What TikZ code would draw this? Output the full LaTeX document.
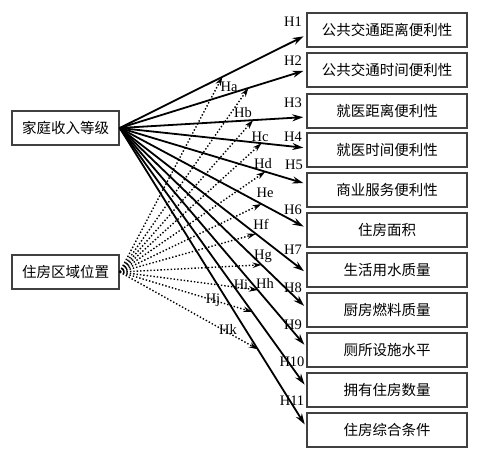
\documentclass[tikz,border=0pt]{standalone}
\usepackage{fontspec}
\setmainfont{Liberation Serif}
\newfontfamily\cjkfont{Noto Sans CJK SC}
\usetikzlibrary{arrows.meta}

\tikzset{
  varbox/.style={draw=black!75,line width=1.4pt,minimum height=34pt,inner sep=0pt,
    font=\cjkfont\fontsize{14.5}{16}\selectfont},
  leftbox/.style={varbox,minimum width=107pt},
  rightbox/.style={varbox,minimum width=160pt},
  mainarr/.style={line width=1.8pt,-{Stealth[length=11pt,width=7pt]},shorten >=3pt},
  modarr/.style={dotted,line width=1.4pt,-{Stealth[length=9pt,width=5.5pt]}},
  hlab/.style={inner sep=0pt,font=\fontsize{14.5}{16}\selectfont}
}

\begin{document}
\begin{tikzpicture}[x=1pt,y=-1pt]
\useasboundingbox (0,0) rectangle (478,458);

% left variables
\node[leftbox] (inc) at (65.5,128) {家庭收入等级};
\node[leftbox] (loc) at (65.5,272) {住房区域位置};

% right variables
\node[rightbox] (b1) at (387,30) {公共交通距离便利性};
\node[rightbox] (b2) at (387,70) {公共交通时间便利性};
\node[rightbox] (b3) at (387,111) {就医距离便利性};
\node[rightbox] (b4) at (387,150) {就医时间便利性};
\node[rightbox] (b5) at (387,190) {商业服务便利性};
\node[rightbox] (b6) at (387,230) {住房面积};
\node[rightbox] (b7) at (387,270) {生活用水质量};
\node[rightbox] (b8) at (387,310) {厨房燃料质量};
\node[rightbox] (b9) at (387,350) {厕所设施水平};
\node[rightbox] (b10) at (387,390) {拥有住房数量};
\node[rightbox] (b11) at (387,430) {住房综合条件};

% main effects
\draw[mainarr] (inc.east) -- coordinate[pos=0.55] (m1) ([yshift=-5pt]b1.west);
\draw[mainarr] (inc.east) -- coordinate[pos=0.69] (m2) (b2.west);
\draw[mainarr] (inc.east) -- coordinate[pos=0.715] (m3) ([yshift=-6pt]b3.west);
\draw[mainarr] (inc.east) -- coordinate[pos=0.76] (m4) ([yshift=2pt]b4.west);
\draw[mainarr] (inc.east) -- coordinate[pos=0.78] (m5) ([yshift=6pt]b5.west);
\draw[mainarr] (inc.east) -- coordinate[pos=0.76] (m6) ([yshift=2pt]b6.west);
\draw[mainarr] (inc.east) -- coordinate[pos=0.73] (m7) ([yshift=-3pt]b7.west);
\draw[mainarr] (inc.east) -- coordinate[pos=0.76] (m8) ([yshift=2pt]b8.west);
\draw[mainarr] (inc.east) -- coordinate[pos=0.74] (m9) ([yshift=3pt]b9.west);
\draw[mainarr] (inc.east) -- coordinate[pos=0.71] (m10) ([yshift=3pt]b10.west);
\draw[mainarr] (inc.east) -- coordinate[pos=0.74] (m11) ([yshift=3pt]b11.west);

\node[hlab] (h1) at (293,22) {H1};
\node[hlab] (h2) at (293,61) {H2};
\node[hlab] (h3) at (293,103) {H3};
\node[hlab] (h4) at (293,137) {H4};
\node[hlab] (h5) at (294,165) {H5};
\node[hlab] (h6) at (293,210) {H6};
\node[hlab] (h7) at (293,250) {H7};
\node[hlab] (h8) at (293,288) {H8};
\node[hlab] (h9) at (293,325) {H9};
\node[hlab] (h10) at (292,362) {H10};
\node[hlab] (h11) at (292,401) {H11};

% moderating effects
\draw[modarr] (loc.east) -- (m1);
\draw[modarr] (loc.east) -- (m2);
\draw[modarr] (loc.east) -- (m3);
\draw[modarr] (loc.east) -- (m4);
\draw[modarr] (loc.east) -- (m5);
\draw[modarr] (loc.east) -- (m6);
\draw[modarr] (loc.east) -- (m7);
\draw[modarr] (loc.east) -- (m8);
\draw[modarr] (loc.east) -- (m9);
\draw[modarr] (loc.east) -- (m10);
\draw[modarr] (loc.east) -- (m11);

\node[hlab] (ha) at (229,87) {Ha};
\node[hlab] (hb) at (243,113) {Hb};
\node[hlab] (hc) at (260,137) {Hc};
\node[hlab] (hd) at (263,164) {Hd};
\node[hlab] (he) at (265,193) {He};
\node[hlab] (hf) at (261,224) {Hf};
\node[hlab] (hg) at (263,256) {Hg};
\node[hlab] (hh) at (265,283) {Hh};
\node[hlab] (hi) at (241,285) {Hi};
\node[hlab] (hj) at (213,300) {Hj};
\node[hlab] (hk) at (228,329) {Hk};
\end{tikzpicture}
\end{document}
